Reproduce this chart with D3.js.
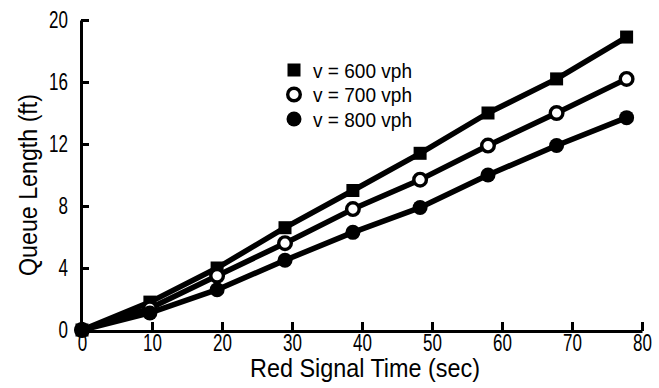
<!DOCTYPE html>
<html>
<head>
<meta charset="utf-8">
<script src="https://cdn.jsdelivr.net/npm/d3@7"></script>
<style>
  body { margin: 0; background: #fff; }
  svg { font-family: "Liberation Sans", Arial, sans-serif; }
  .axis path, .axis line { stroke: #000; stroke-width: 3px; }
  .axis text { font-size: 23px; fill: #000; }
  .title { font-size: 25px; fill: #000; }
  .legend text { font-size: 21px; fill: #000; }
</style>
</head>
<body>
<svg id="chart" width="659" height="388"></svg>
<script>
let width = 659,
    height = 388
let margins = {left: 81, right: 17, top: 20, bottom: 58}
let squeeze = 0.74   // condensed look for tick labels

// red signal time (sec)
let times = [0, 9.7, 19.3, 29, 38.7, 48.3, 58, 67.8, 77.8]
// queue length (ft) for each volume
let v600 = [0, 1.8, 4.0, 6.6, 9.0, 11.4, 14.0, 16.2, 18.9]
let v700 = [0, 1.4, 3.5, 5.6, 7.8, 9.7, 11.9, 14.0, 16.2]
let v800 = [0, 1.1, 2.6, 4.5, 6.3, 7.9, 10.0, 11.9, 13.7]
let series_names = ["v = 600 vph", "v = 700 vph", "v = 800 vph"]
let markers = ["square", "open", "filled"]
let x_ticks = [0, 10, 20, 30, 40, 50, 60, 70, 80]
let y_ticks = [0, 4, 8, 12, 16, 20]

function make_scales() {
  return {
    x: d3.scaleLinear().domain([0, 80]).range([82, 642]),
    y: d3.scaleLinear().domain([0, 20]).range([330, 20])
  }
}

function add_axes(svg, scales) {
  let xa = svg.append("g")
    .attr("class", "axis")
    .attr("transform", `translate(0, ${scales.y(0) + 1})`)
    .call(d3.axisBottom(scales.x).tickValues(x_ticks).tickSizeInner(-9).tickSizeOuter(0).tickPadding(2))
  xa.selectAll("text")
    .attr("dy", "0.8em")
    .attr("transform", `scale(${squeeze},1)`)

  let ya = svg.append("g")
    .attr("class", "axis")
    .attr("transform", `translate(${margins.left}, 0)`)
    .call(d3.axisLeft(scales.y).tickValues(y_ticks).tickSizeInner(-8).tickSizeOuter(0).tickPadding(13))
  ya.selectAll("text")
    .attr("x", -13 / squeeze)
    .attr("transform", `scale(${squeeze},1)`)

  svg.append("text").attr("class", "title")
    .attr("text-anchor", "middle")
    .attr("x", 365).attr("y", 377)
    .attr("textLength", 230).attr("lengthAdjust", "spacingAndGlyphs")
    .text("Red Signal Time (sec)")
  svg.append("text").attr("class", "title")
    .attr("text-anchor", "middle")
    .attr("transform", `translate(37, 185)rotate(-90)`)
    .attr("textLength", 182).attr("lengthAdjust", "spacingAndGlyphs")
    .text("Queue Length (ft)")
}

function draw_marker(g, kind) {
  if (kind == "square") {
    g.append("rect").attr("x", -6.5).attr("y", -6.5).attr("width", 13).attr("height", 13).attr("fill", "#000")
  } else if (kind == "open") {
    g.append("circle").attr("r", 6.3).attr("fill", "#fff").attr("stroke", "#000").attr("stroke-width", 3.4)
  } else {
    g.append("circle").attr("r", 7.5).attr("fill", "#000")
  }
}

function draw_lines(svg, scales) {
  let all = [v600, v700, v800]
  let line = d3.line()
    .x((d, i) => scales.x(times[i]))
    .y(d => scales.y(d))

  // lines first, then markers on top
  all.forEach(vals => {
    svg.append("path")
      .attr("d", line(vals))
      .attr("fill", "none")
      .attr("stroke", "#000")
      .attr("stroke-width", 5.5)
      .attr("stroke-linejoin", "round")
  })
  all.forEach((vals, k) => {
    svg.append("g").selectAll("g")
      .data(vals).enter()
      .append("g")
      .attr("transform", (d, i) => `translate(${scales.x(times[i])}, ${scales.y(d)})`)
      .each(function() { draw_marker(d3.select(this), markers[k]) })
  })
}

function draw_legend(svg) {
  let legend = svg.append("g").attr("class", "legend")
  series_names.forEach((name, k) => {
    let row = legend.append("g").attr("transform", `translate(294, ${70 + k * 24.5})`)
    draw_marker(row, markers[k])
    row.append("text").attr("x", 19).attr("dy", "0.36em")
      .attr("textLength", 99).attr("lengthAdjust", "spacingAndGlyphs")
      .text(name)
  })
}

let svg = d3.select("#chart")
let scales = make_scales()
add_axes(svg, scales)
draw_lines(svg, scales)
draw_legend(svg)
</script>
</body>
</html>
